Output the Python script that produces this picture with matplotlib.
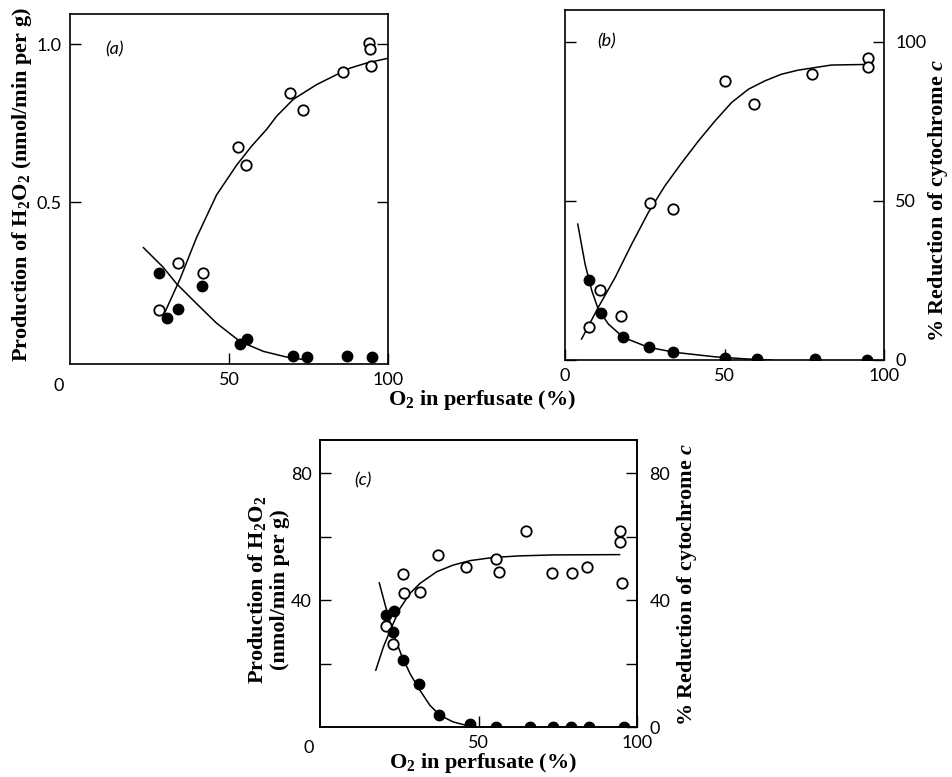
import matplotlib
matplotlib.use('Agg')
import matplotlib.pyplot as plt

plt.rcParams['mathtext.fontset'] = 'custom'
plt.rcParams['mathtext.rm'] = 'Liberation Serif:bold'
plt.rcParams['mathtext.bf'] = 'Liberation Serif:bold'
plt.rcParams['mathtext.it'] = 'Liberation Serif:bold:italic'

# panel (a): H2O2 production (nmol/min per g)
a_open_x = [28.1, 34.1, 41.7, 52.7, 55.3, 69.3, 73.4, 85.9, 94.1, 94.3, 94.6]
a_open_y = [0.16, 0.307, 0.275, 0.674, 0.617, 0.844, 0.792, 0.910, 1.002, 0.983, 0.932]
a_fill_x = [28.1, 30.6, 33.9, 41.5, 53.5, 55.8, 70.1, 74.5, 87.0, 95.0]
a_fill_y = [0.275, 0.133, 0.163, 0.235, 0.052, 0.068, 0.012, 0.010, 0.013, 0.010]
a_open_cx = [29.9, 34.6, 39.8, 46.1, 52.4, 57.1, 61.9, 65.0, 70.2, 77.6, 82.8, 88.1, 93.3, 100]
a_open_cy = [0.153, 0.257, 0.388, 0.523, 0.617, 0.677, 0.731, 0.772, 0.825, 0.872, 0.898, 0.924, 0.94, 0.955]
a_fill_cx = [23.1, 29.3, 33.5, 39.8, 46.1, 53.5, 60.8, 68.1, 73.4]
a_fill_cy = [0.356, 0.294, 0.242, 0.179, 0.117, 0.059, 0.028, 0.010, 0.002]

# panel (b): % reduction of cytochrome c
b_open_x = [7.5, 11.0, 17.7, 26.6, 33.8, 50.1, 59.2, 77.4, 95.0, 95.0]
b_open_y = [10.5, 22.1, 13.8, 49.2, 47.4, 87.7, 80.4, 90.0, 95.0, 92.1]
b_fill_x = [7.4, 11.4, 18.3, 26.4, 34.0, 50.1, 60.3, 78.4, 94.6]
b_fill_y = [25.1, 14.8, 7.1, 4.0, 2.6, 0.5, 0.3, 0.2, 0.0]
b_open_cx = [5.2, 10.4, 15.7, 20.9, 26.1, 31.3, 36.6, 41.8, 47.0, 52.2, 57.5, 62.6, 67.8, 73.1, 83.5, 95.1]
b_open_cy = [6.6, 16.5, 25.9, 36.4, 46.3, 54.7, 62.0, 68.8, 75.1, 80.9, 85.1, 87.7, 89.8, 91.1, 92.7, 92.9]
b_fill_cx = [4.0, 6.3, 8.4, 10.4, 13.6, 18.3, 26.1, 34.5, 47.0, 57.4, 64.7]
b_fill_cy = [42.7, 30.1, 21.8, 16.0, 11.3, 7.1, 4.0, 2.4, 1.0, 0.3, 0.0]

# panel (c)
c_open_x = [20.8, 23.1, 26.3, 26.5, 31.7, 37.1, 46.2, 55.4, 56.5, 65.0, 73.2, 79.4, 84.2, 94.6, 94.6, 95.2]
c_open_y = [31.9, 26.3, 48.2, 42.3, 42.6, 54.2, 50.5, 52.9, 48.7, 61.7, 48.5, 48.5, 50.5, 61.6, 58.2, 45.5]
c_fill_x = [20.8, 23.3, 22.9, 26.3, 31.3, 37.5, 47.3, 55.4, 66.3, 73.6, 79.2, 84.9, 95.9]
c_fill_y = [35.2, 36.4, 29.8, 21.0, 13.5, 3.7, 0.9, 0.1, 0.0, 0.0, 0.0, 0.0, 0.0]
c_open_cx = [17.6, 20.0, 22.6, 25.2, 28.4, 31.5, 36.8, 42.0, 47.3, 54.6, 63.0, 73.5, 94.5]
c_open_cy = [17.9, 25.2, 31.5, 37.3, 42.1, 45.2, 48.9, 51.0, 52.4, 53.4, 53.9, 54.2, 54.3]
c_fill_cx = [18.7, 21.0, 23.1, 25.7, 28.4, 31.5, 34.7, 37.8, 42.0, 46.2, 49.4]
c_fill_cy = [45.4, 36.8, 29.5, 22.6, 16.8, 11.6, 6.8, 3.7, 1.6, 0.5, 0.0]

W, H = 952, 777
fig = plt.figure(figsize=(W / 100, H / 100), dpi=100)

tick_font = {'family': 'Lato', 'size': 13}
label_font = {'family': 'Liberation Serif', 'weight': 'bold', 'size': 16}


def box(l, t, r, b):
    return [l / W, 1 - b / H, (r - l) / W, (b - t) / H]


def style(ax):
    for s in ax.spines.values():
        s.set_linewidth(1.2)
    ax.tick_params(direction='in', length=8, width=1, pad=6)
    for lab in ax.get_xticklabels() + ax.get_yticklabels():
        lab.set_fontfamily(tick_font['family'])
        lab.set_fontsize(tick_font['size'])


def draw(ax, ox, oy, fx, fy, ocx, ocy, fcx, fcy):
    ax.plot(ocx, ocy, color='black', lw=1.1, zorder=2)
    ax.plot(fcx, fcy, color='black', lw=1.1, zorder=2)
    ax.plot(ox, oy, 'o', ms=7.5, mfc='white', mec='black', mew=1.3, ls='none', zorder=3)
    ax.plot(fx, fy, 'o', ms=7.5, mfc='black', mec='black', ls='none', zorder=3)


# (a)
ax1 = fig.add_axes(box(70, 14, 388, 364))
draw(ax1, a_open_x, a_open_y, a_fill_x, a_fill_y, a_open_cx, a_open_cy, a_fill_cx, a_fill_cy)
ax1.set_xlim(0, 100)
ax1.set_ylim(-0.012, 1.095)
ax1.set_xticks([50, 100])
ax1.set_xticklabels(['50', '100'])
ax1.set_yticks([0.5, 1.0])
ax1.set_yticklabels(['0.5', '1.0'])
ax1.yaxis.set_ticks_position('both')
style(ax1)
ax1.text(-0.035, -0.04, '0', transform=ax1.transAxes, ha='center', va='top', **tick_font)
ax1.text(0.14, 0.90, '(a)', transform=ax1.transAxes, ha='center', va='center',
         family='Lato', style='italic', size=13)

# (b)
ax2 = fig.add_axes(box(565, 10, 884, 360))
draw(ax2, b_open_x, b_open_y, b_fill_x, b_fill_y, b_open_cx, b_open_cy, b_fill_cx, b_fill_cy)
ax2.set_xlim(0, 100)
ax2.set_ylim(0, 110)
ax2.set_xticks([0, 50, 100])
ax2.set_xticklabels(['0', '50', '100'])
ax2.set_yticks([0, 50, 100])
ax2.yaxis.set_ticks_position('both')
ax2.tick_params(labelleft=False, labelright=True)
ax2.set_yticklabels(['0', '50', '100'])
style(ax2)
ax2.tick_params(axis='y', pad=8)
ax2.text(0.13, 0.91, '(b)', transform=ax2.transAxes, ha='center', va='center',
         family='Lato', style='italic', size=13)

# (c)
ax3 = fig.add_axes(box(320, 440, 637, 727))
draw(ax3, c_open_x, c_open_y, c_fill_x, c_fill_y, c_open_cx, c_open_cy, c_fill_cx, c_fill_cy)
ax3.set_xlim(0, 100)
ax3.set_ylim(0, 90.4)
ax3.set_xticks([50, 100])
ax3.set_xticklabels(['50', '100'])
ax3.set_yticks([20, 40, 60, 80])
ax3.set_yticklabels(['', '40', '', '80'])
style(ax3)
ax3r = ax3.twinx()
ax3r.set_ylim(0, 90.4)
ax3r.set_yticks([0, 20, 40, 60, 80])
ax3r.set_yticklabels(['0', '', '40', '', '80'])
style(ax3r)
ax3r.tick_params(axis='y', pad=9)
ax3.text(-0.035, -0.045, '0', transform=ax3.transAxes, ha='center', va='top', **tick_font)
ax3.text(0.135, 0.86, '(c)', transform=ax3.transAxes, ha='center', va='center',
         family='Lato', style='italic', size=13)

# axis titles
fig.text(22 / W, 1 - 185 / H, r'Production of $\mathbf{H_2O_2}$ (nmol/min per g)',
         rotation=90, ha='center', va='center', **label_font)
fig.text(482 / W, 1 - 400 / H, r'$\mathbf{O_2}$ in perfusate (%)',
         ha='center', va='center', **label_font)
fig.text(938 / W, 1 - 200 / H, r'% Reduction of cytochrome $\mathit{c}$',
         rotation=90, ha='center', va='center', **label_font)
fig.text(268 / W, 1 - 590 / H, 'Production of $\\mathbf{H_2O_2}$\n(nmol/min per g)',
         rotation=90, ha='center', va='center', multialignment='center',
         linespacing=1.1, **label_font)
fig.text(687 / W, 1 - 584 / H, r'% Reduction of cytochrome $\mathit{c}$',
         rotation=90, ha='center', va='center', **label_font)
fig.text(483 / W, 1 - 763 / H, r'$\mathbf{O_2}$ in perfusate (%)',
         ha='center', va='center', **label_font)

fig.savefig('out.png', dpi=100)
